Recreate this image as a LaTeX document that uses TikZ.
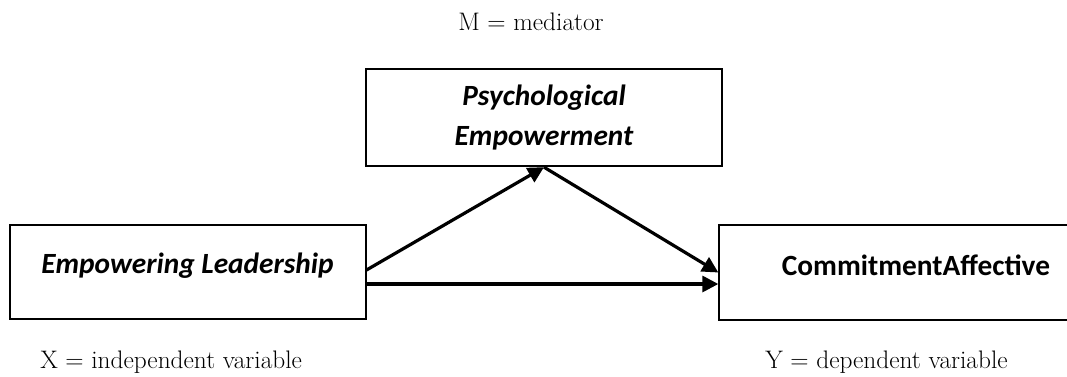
\documentclass[tikz,border=0pt]{standalone}
\usepackage{fontspec}
\newfontfamily\boxfont{Carlito}
\usetikzlibrary{arrows.meta, positioning}

\begin{document}
\begin{tikzpicture}[x=0.75pt, y=-0.75pt, >={Triangle[length=12pt,width=12pt]}]
\tikzset{
  varbox/.style={draw, line width=1.5pt, minimum width=267pt, minimum height=71pt, inner sep=0pt, align=center, font=\boxfont\fontsize{22}{30}\selectfont},
  note/.style={font=\fontsize{19}{22}\selectfont, inner sep=0pt},
  path/.style={->, line width=2.4pt}
}
\useasboundingbox (0,0) rectangle (1067,376);
\clip (0,0) rectangle (1067,376);
% variables
\node[varbox, minimum height=73pt] (pe) at (544,117.5) {\bfseries\itshape Psychological\\\bfseries\itshape Empowerment};
\node[varbox, text depth=13pt] (el) at (187.5,272) {\bfseries\itshape Empowering Leadership};
\node[varbox, minimum width=295pt, text depth=11pt] (ca) at (916,272.5) {\bfseries CommitmentAffective};
% legend
\node[note] (m) at (531,22) {M = mediator};
\node[note, anchor=west] (x) at (40,362) {X = independent variable};
\node[note, anchor=west] (y) at (765,362) {Y = dependent variable};
% paths
\draw[path] ([yshift=1.5pt]el.east) -- (pe.south);
\draw[path] (pe.south) -- (ca.west);
\draw[path] ([yshift=-9pt]el.east) -- ([yshift=-9pt]el.east -| ca.west);
\end{tikzpicture}
\end{document}
